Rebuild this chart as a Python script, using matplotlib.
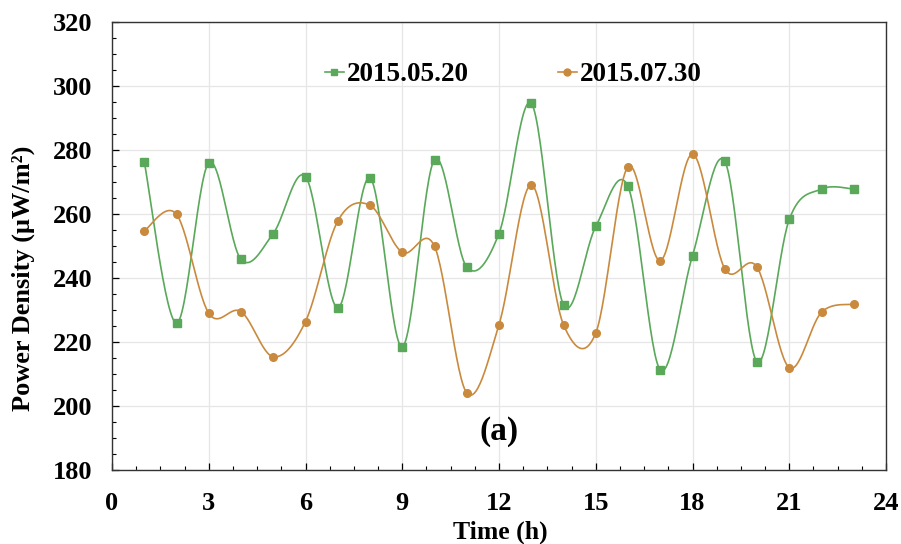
import numpy as np
import matplotlib
matplotlib.use('Agg')
import matplotlib.pyplot as plt
from matplotlib.ticker import MultipleLocator

# Hourly power density readings
hours = [1, 2, 3, 4, 5, 6, 7, 8, 9, 10, 11, 12, 13, 14, 15, 16, 17, 18, 19, 20, 21, 22, 23]
may20 = [276.3, 225.9, 276.0, 245.8, 253.9, 271.7, 230.7, 271.3, 218.5, 277.0, 243.4, 253.9,
         294.6, 231.6, 256.1, 268.6, 211.3, 247.0, 276.5, 213.8, 258.3, 267.8, 267.8]
jul30 = [254.7, 259.9, 229.0, 229.5, 215.4, 226.4, 257.8, 262.7, 248.0, 249.9, 204.1, 225.4,
         269.1, 225.4, 222.8, 274.8, 245.4, 278.7, 242.9, 243.4, 212.0, 229.3, 231.8]

GREEN = '#5aa85a'
ORANGE = '#c98a3e'
W, H = 901, 544


def smooth(x, y, n=30):
    """Excel-style smoothed line: cubic Bezier through every point."""
    x = np.asarray(x, float)
    y = np.asarray(y, float)
    px = np.concatenate([[x[0]], x, [x[-1]]])
    py = np.concatenate([[y[0]], y, [y[-1]]])
    t = np.linspace(0, 1, n)[:, None]
    xs, ys = [], []
    for i in range(1, len(px) - 2):
        p0 = np.array([px[i], py[i]])
        p1 = np.array([px[i + 1], py[i + 1]])
        c1 = p0 + (p1 - np.array([px[i - 1], py[i - 1]])) / 6
        c2 = p1 - (np.array([px[i + 2], py[i + 2]]) - p0) / 6
        seg = ((1 - t) ** 3) * p0 + 3 * ((1 - t) ** 2) * t * c1 + 3 * (1 - t) * t ** 2 * c2 + t ** 3 * p1
        xs.append(seg[:, 0])
        ys.append(seg[:, 1])
    return np.concatenate(xs), np.concatenate(ys)


plt.rcParams['font.family'] = ['Liberation Serif', 'DejaVu Serif']
plt.rcParams['font.weight'] = 'bold'

fig = plt.figure(figsize=(W / 100, H / 100), dpi=100)
ax = fig.add_axes([112 / W, 1 - 470 / H, 774 / W, 448 / H])

for y, col, mk in [(may20, GREEN, 's'), (jul30, ORANGE, 'o')]:
    sx, sy = smooth(hours, y)
    ax.plot(sx, sy, color=col, lw=1.2, zorder=3)
    ax.plot(hours, y, ls='none', marker=mk, ms=5.5, color=col, zorder=4)

# legend handles (line + marker)
h1, = ax.plot([], [], color=GREEN, marker='s', ms=5, lw=1.2, label='2015.05.20')
h2, = ax.plot([], [], color=ORANGE, marker='o', ms=5, lw=1.2, label='2015.07.30')
ax.legend(handles=[h1, h2], loc='center left', bbox_to_anchor=(0.275, 0.882),
          ncol=2, frameon=False, handlelength=0.7, handletextpad=0.1,
          columnspacing=3.3, borderpad=0, borderaxespad=0,
          prop={'family': 'Liberation Serif', 'weight': 'bold', 'size': 19.5})

ax.set_xlim(0, 24)
ax.set_ylim(180, 320)
ax.xaxis.set_major_locator(MultipleLocator(3))
ax.xaxis.set_minor_locator(MultipleLocator(0.75))
ax.yaxis.set_major_locator(MultipleLocator(20))
ax.yaxis.set_minor_locator(MultipleLocator(5))
ax.tick_params(which='both', direction='in', top=False, right=False)
ax.tick_params(which='major', length=5, width=0.9, labelsize=19)
ax.tick_params(axis='x', which='major', pad=16)
ax.tick_params(axis='y', which='major', pad=14)
ax.tick_params(which='minor', length=3, width=0.8)
for lab in ax.get_xticklabels() + ax.get_yticklabels():
    lab.set_fontweight('bold')
ax.grid(True, which='major', color='#e6e6e6', lw=0.9, zorder=0)
ax.set_axisbelow(True)
for s in ax.spines.values():
    s.set_color('#333333')
    s.set_linewidth(1.0)

fig.text(500 / W, 1 - 532 / H, 'Time (h)', fontsize=18.5, fontweight='bold',
         ha='center', va='center')
fig.text(23 / W, 1 - 278 / H, 'Power Density (μW/m²)', fontsize=19, fontweight='bold',
         rotation=90, ha='center', va='center')
ax.text(12, 192, '(a)', fontsize=24, fontweight='bold', ha='center', va='center')

fig.savefig('out.png', dpi=100, facecolor='white')
